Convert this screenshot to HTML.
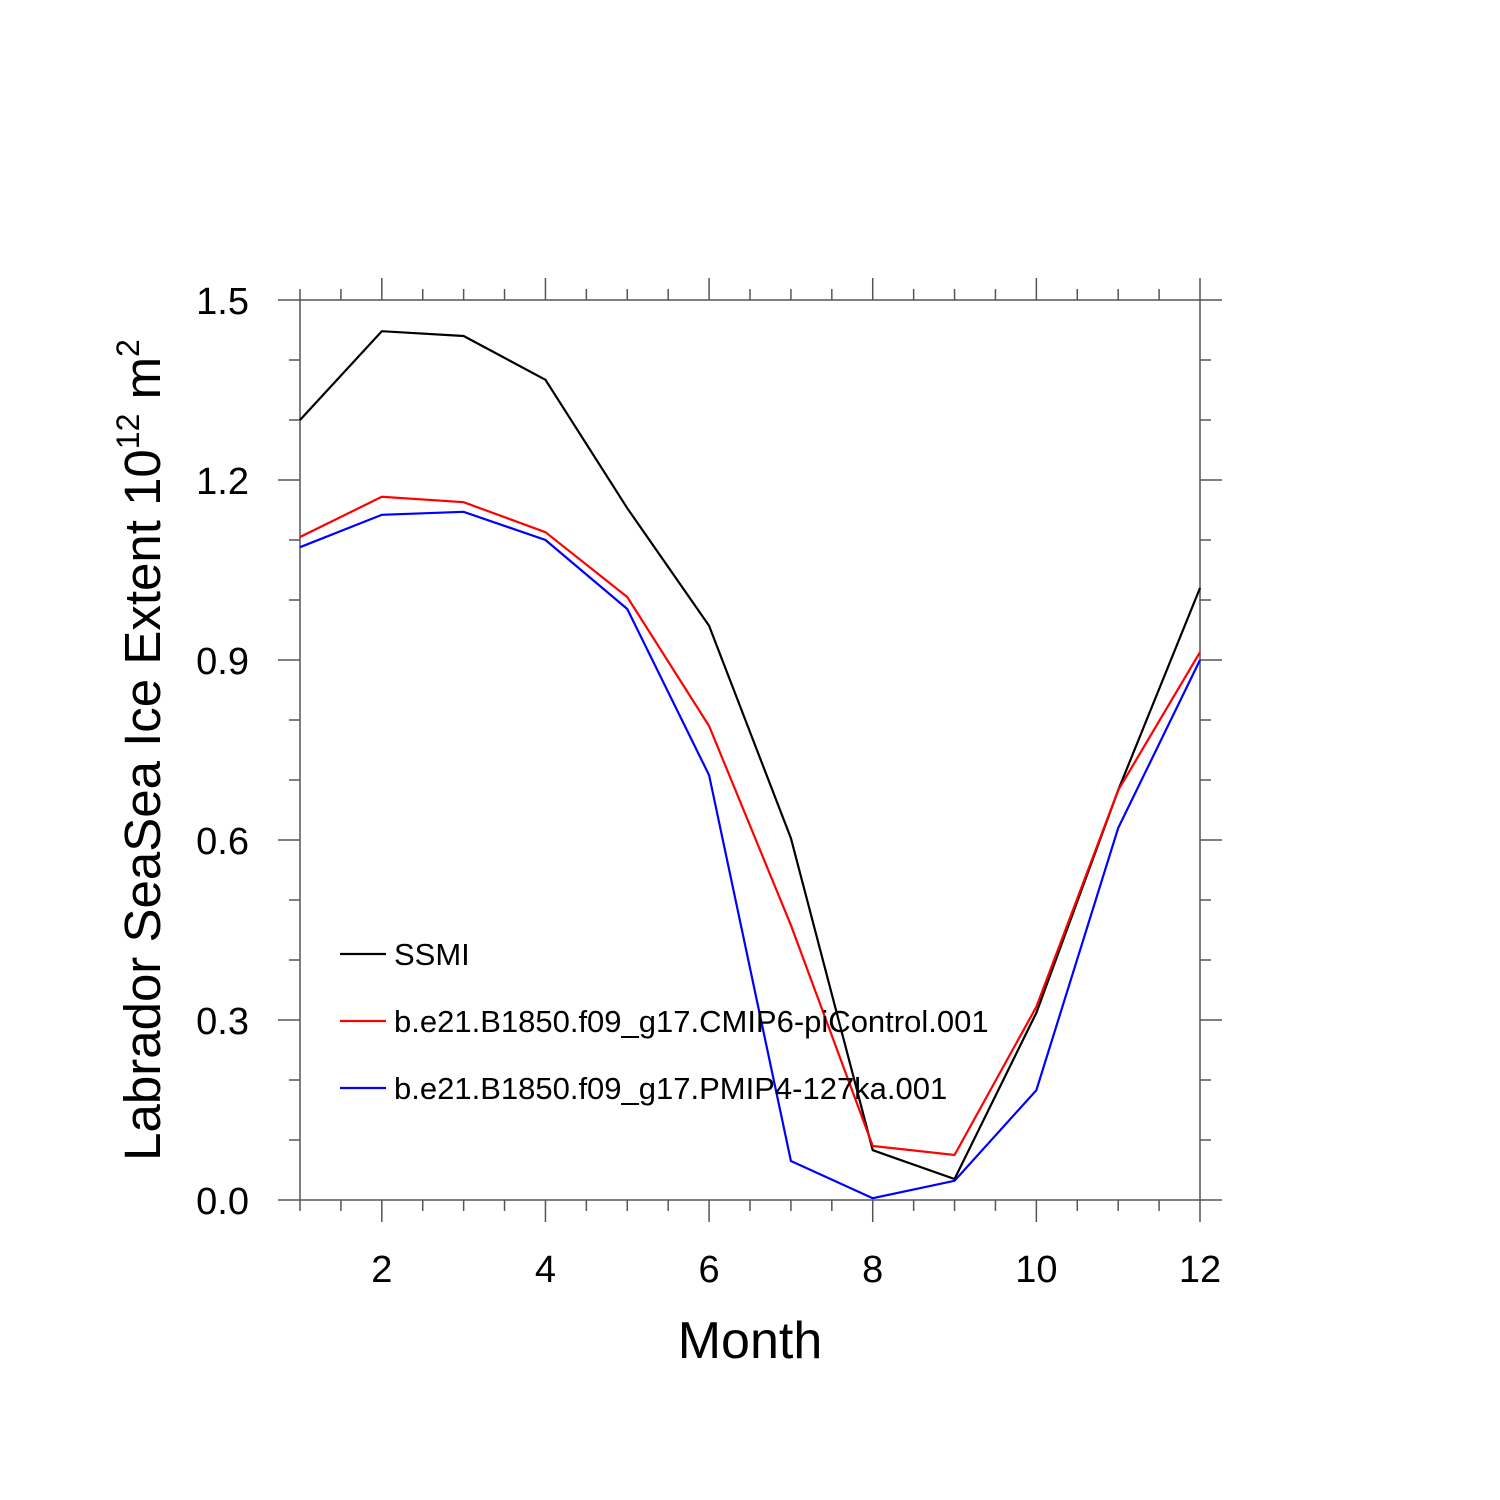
<!DOCTYPE html>
<html><head><meta charset="utf-8"><style>
body{margin:0;background:#fff}
svg{display:block;font-family:"Liberation Sans",sans-serif}
</style></head><body>
<svg id="chart" width="1500" height="1500" viewBox="0 0 1500 1500">
<g id="axes"></g><g id="series"></g><g id="legend"></g>
<text x="750" y="1358" font-size="52" text-anchor="middle">Month</text>
<text transform="translate(160,750) rotate(-90)" font-size="51" text-anchor="middle">Labrador SeaSea Ice Extent 10<tspan font-size="32" dy="-21">12</tspan><tspan dy="21"> m</tspan><tspan font-size="32" dy="-21">2</tspan></text>
</svg>
<script>
const months=[1,2,3,4,5,6,7,8,9,10,11,12];
const ssmi=[1.30,1.448,1.44,1.367,1.153,0.957,0.603,0.083,0.035,0.312,0.683,1.02];
const piControl=[1.105,1.172,1.163,1.113,1.005,0.79,0.458,0.09,0.075,0.322,0.683,0.913];
const pmip=[1.088,1.142,1.147,1.10,0.985,0.708,0.065,0.003,0.032,0.183,0.62,0.90];
const xTicks=[2,4,6,8,10,12];
const yTicks=["0.0","0.3","0.6","0.9","1.2","1.5"];
const seriesNames=["SSMI","b.e21.B1850.f09_g17.CMIP6-piControl.001","b.e21.B1850.f09_g17.PMIP4-127ka.001"];
const NS="http://www.w3.org/2000/svg";
const X=m=>300+(m-1)*900/11, Y=v=>1200-v*600;
function mk(t,a,p){const e=document.createElementNS(NS,t);for(const k in a)e.setAttribute(k,a[k]);p.appendChild(e);return e;}
const ax=document.getElementById('axes');
const frame=mk('rect',{x:300,y:300,width:900,height:900,fill:'none',stroke:'#555','stroke-width':1.5},ax);


for(let m=1;m<=12;m+=0.5){const x=X(m);const maj=Number.isInteger(m)&&m%2==0;const L=maj?22:11;
 mk('line',{x1:x,y1:300,x2:x,y2:300-L,stroke:'#555','stroke-width':1.5},ax);
 mk('line',{x1:x,y1:1200,x2:x,y2:1200+L,stroke:'#555','stroke-width':1.5},ax);}
for(let i=0;i<=15;i++){const y=Y(i/10);const L=i%3==0?22:11;
 mk('line',{x1:300,y1:y,x2:300-L,y2:y,stroke:'#555','stroke-width':1.5},ax);
 mk('line',{x1:1200,y1:y,x2:1200+L,y2:y,stroke:'#555','stroke-width':1.5},ax);}
xTicks.forEach(m=>{const t=mk('text',{x:X(m),y:1282,'font-size':38,'text-anchor':'middle'},ax);t.textContent=m;
 
 });
yTicks.forEach(s=>{const t=mk('text',{x:249,y:Y(parseFloat(s))+14,'font-size':38,'text-anchor':'end'},ax);t.textContent=s;
 
 });
const sg=document.getElementById('series');
const data=[ssmi,piControl,pmip],cols=["#000","#f00","#00f"],ids=["ssmi-line","picontrol-line","pmip4-line"];
data.forEach((d,i)=>{const p=mk('polyline',{points:d.map((v,j)=>X(months[j])+','+Y(v)).join(' '),fill:'none',stroke:cols[i],'stroke-width':2.2},sg);
 
 });
const lg=document.getElementById('legend');
seriesNames.forEach((n,i)=>{const y=954+i*67;
 const g=mk('g',{},lg);
 
 
 mk('line',{x1:340,y1:y,x2:386,y2:y,stroke:cols[i],'stroke-width':2.2},g);
 const t=mk('text',{x:394,y:y+11,'font-size':31},g);t.textContent=n;});
</script>
</body></html>
